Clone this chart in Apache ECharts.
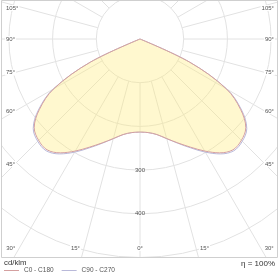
<!DOCTYPE html>
<html>
<head>
<meta charset="utf-8">
<script src="https://cdn.jsdelivr.net/npm/echarts@6/dist/echarts.min.js"></script>
<style>
  html, body { margin: 0; padding: 0; background: #fff; }
  #chart { width: 280px; height: 279px; }
</style>
</head>
<body>
<div id="chart"></div>
<script>
// gamma angle from nadir (deg), curve is the same on both half planes
const gammaAngles = [0, 5, 10, 15, 20, 25, 30, 35, 40, 45, 50, 55, 60, 65, 70, 75, 80, 85, 90,
  95, 100, 105, 110, 115, 120, 125, 130, 135, 140, 145, 150, 155, 160, 165, 170, 175, 180];
const c0c180 = [213, 215, 222, 236, 253, 273, 296, 318, 331, 328, 316, 281, 228, 125, 0, 0, 0, 0, 0,
  0, 0, 0, 0, 0, 0, 0, 0, 0, 0, 0, 0, 0, 0, 0, 0, 0, 0];
const c90c270 = [213, 215, 222, 236, 254, 275, 299, 321, 334, 331, 319, 284, 230, 126, 0, 0, 0, 0, 0,
  0, 0, 0, 0, 0, 0, 0, 0, 0, 0, 0, 0, 0, 0, 0, 0, 0, 0];
const seriesNames = ['C0 - C180', 'C90 - C270'];
const seriesColors = ['#d4a0a0', '#b9b9d9'];
const angleTickLabels = [0, 15, 30, 45, 60, 75, 90, 105];
const radiusTickLabels = [300, 400];
const unitLabel = 'cd/klm';
const efficiencyLabel = 'η = 100%';

// layout of the diagram
const CX = 140, CY = 39;
const PX = 0.437;          // px per cd/klm
const RMAX = 1000;
const box = { x0: 2, y0: 0, x1: 277, y1: 257 };

const chart = echarts.init(document.getElementById('chart'));

// one half plane: left uses angle = gamma, right uses angle = 360 - gamma
const half = (values, side) =>
  gammaAngles.map((g, i) => [values[i], side < 0 ? g : 360 - g]);

const angleLabel = (g, side) => {
  const rad = g * Math.PI / 180;
  const sx = Math.sin(rad), cy = Math.cos(rad);
  const tSide = sx > 1e-6 ? (side < 0 ? CX - box.x0 : box.x1 - CX) / sx : Infinity;
  const tBottom = cy > 1e-6 ? (box.y1 - CY) / cy : Infinity;
  let x, y, align;
  if (tSide < tBottom) {
    x = side < 0 ? 5 : 275;
    align = side < 0 ? 'left' : 'right';
    y = Math.max(8, CY + cy * 125 / sx);
  } else {
    y = 248;
    x = CX + side * sx * (y - CY) / cy;
    align = g === 0 ? 'center' : (side < 0 ? 'right' : 'left');
    if (g !== 0) x += side * 3;
  }
  return {
    type: 'text', x, y, z: 20,
    style: {
      text: g + '°', align, verticalAlign: 'middle',
      fontSize: 6, fontFamily: 'Liberation Sans', fill: '#555',
      backgroundColor: '#fff', padding: [0, 1],
    },
  };
};

const labels = [];
angleTickLabels.forEach((g) => {
  labels.push(angleLabel(g, -1));
  if (g !== 0) labels.push(angleLabel(g, 1));
});

const curve = (name, values, color, side, fill) => ({
  name, type: 'line', coordinateSystem: 'polar', polarIndex: 1,
  data: half(values, side), showSymbol: false, smooth: 0.35,
  z: fill ? 3 : 2,
  itemStyle: { color },
  lineStyle: { width: 1, color },
  areaStyle: fill ? { color: 'rgba(255, 236, 120, 0.5)' } : undefined,
});

const gridLine = { color: '#e2e2e2', width: 1 };

const option = {
  animation: false,
  title: [
    { text: unitLabel, left: 4, top: 259, padding: 0, z: 20,
      textStyle: { fontSize: 7.8, fontWeight: 'normal', color: '#333', fontFamily: 'Liberation Sans' } },
    { text: efficiencyLabel, right: 5, top: 260, padding: 0, z: 20,
      textStyle: { fontSize: 8, fontWeight: 'normal', color: '#333', fontFamily: 'Liberation Sans' } },
  ],
  legend: {
    data: seriesNames,
    left: 4, top: 267, padding: 0, z: 20,
    icon: 'rect', itemWidth: 15, itemHeight: 1, itemGap: 8,
    textStyle: { fontSize: 6.5, color: '#555', fontFamily: 'Liberation Sans' },
  },
  polar: [
    { center: [CX, CY], radius: [100 * PX, RMAX * PX] },
    { center: [CX, CY], radius: [0, RMAX * PX] },
  ],
  angleAxis: [
    {
      polarIndex: 0, type: 'value', min: 0, max: 360, interval: 15,
      startAngle: 270, clockwise: true,
      axisLine: { show: false }, axisTick: { show: false }, axisLabel: { show: false },
      splitLine: { show: true, lineStyle: gridLine },
    },
    {
      polarIndex: 1, type: 'value', min: 0, max: 360, interval: 15,
      startAngle: 270, clockwise: true, show: false,
    },
  ],
  radiusAxis: [
    {
      polarIndex: 0, type: 'value', min: 100, max: RMAX, interval: 100,
      axisLine: { show: false }, axisTick: { show: false },
      splitLine: { show: true, lineStyle: gridLine },
      axisLabel: {
        show: true, margin: 0, align: 'center', verticalAlign: 'middle',
        fontSize: 6, color: '#555', fontFamily: 'Liberation Sans',
        formatter: (v) => (radiusTickLabels.includes(v) ? String(v) : ''),
      },
    },
    { polarIndex: 1, type: 'value', min: 0, max: RMAX, show: false },
  ],
  series: [
    curve(seriesNames[0], c0c180, seriesColors[0], -1, true),
    curve(seriesNames[0], c0c180, seriesColors[0], 1, true),
    curve(seriesNames[1], c90c270, seriesColors[1], -1, false),
    curve(seriesNames[1], c90c270, seriesColors[1], 1, false),
  ],
  graphic: [
    // mask what lies outside the diagram frame
    { type: 'rect', z: 10, shape: { x: 0, y: box.y1, width: 280, height: 30 }, style: { fill: '#fff' } },
    { type: 'rect', z: 10, shape: { x: 0, y: 0, width: box.x0, height: box.y1 }, style: { fill: '#fff' } },
    { type: 'rect', z: 10, shape: { x: box.x1, y: 0, width: 10, height: box.y1 }, style: { fill: '#fff' } },
    { type: 'rect', z: 11, shape: { x: box.x0 - 0.5, y: 0.5, width: box.x1 - box.x0 + 1, height: box.y1 },
      style: { fill: 'none', stroke: '#cfcfcf', lineWidth: 1 } },
    ...labels,
  ],
};

chart.setOption(option);
</script>
</body>
</html>
